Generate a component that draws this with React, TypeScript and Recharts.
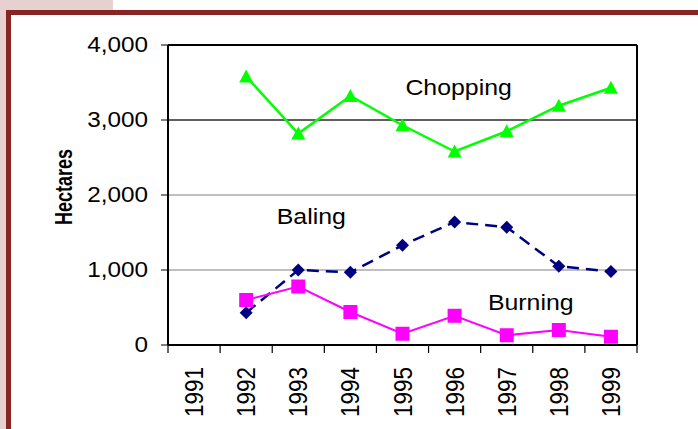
import {
  LineChart,
  Line,
  XAxis,
  YAxis,
  CartesianGrid,
  ReferenceLine,
  ReferenceDot,
  Label,
} from "recharts";

const years = ["1991", "1992", "1993", "1994", "1995", "1996", "1997", "1998", "1999"];
const chopping = [null, 3580, 2820, 3320, 2930, 2580, 2850, 3190, 3430];
const baling = [null, 430, 1000, 970, 1330, 1640, 1570, 1050, 980];
const burning = [null, 600, 780, 440, 150, 390, 130, 200, 110];
const yTicks = [0, 1000, 2000, 3000, 4000];

const data = years.map((year, i) => ({
  year,
  chopping: chopping[i],
  baling: baling[i],
  burning: burning[i],
}));

const FONT = "'Liberation Sans', Arial, sans-serif";

const fmt = (v: number) => v.toLocaleString("en-US");

// text widened on screen-x (the old export is a little stretched sideways)
function WideText({ x, y, angle = 0, sx = 1.13, children, ...rest }: any) {
  return (
    <text
      transform={`translate(${x} ${y}) scale(${sx} 1) rotate(${angle})`}
      fontFamily={FONT}
      fill="#000"
      {...rest}
    >
      {children}
    </text>
  );
}

// year labels sit between boundary tick marks (category bands)
function YearTick({ x, y, payload, index }: any) {
  const half = payload?.offset ?? 26;
  const last = index === years.length - 1;
  return (
    <g>
      <line x1={x - half} x2={x - half} y1={y} y2={y + 8} stroke="#000" strokeWidth={1.2} />
      {last && <line x1={x + half} x2={x + half} y1={y} y2={y + 8} stroke="#000" strokeWidth={1.2} />}
      <WideText x={x} y={y + 22} angle={-90} sx={1.15} textAnchor="end" dominantBaseline="central" fontSize={22.5}>
        {payload.value}
      </WideText>
    </g>
  );
}

function ValueTick({ x, y, payload }: any) {
  return (
    <WideText x={x} y={y} textAnchor="end" dominantBaseline="central" fontSize={21.5}>
      {fmt(payload.value)}
    </WideText>
  );
}

function Triangle({ cx, cy }: any) {
  if (cx == null || cy == null || isNaN(cy)) return <g />;
  return <polygon points={`${cx},${cy - 7} ${cx + 7},${cy + 6} ${cx - 7},${cy + 6}`} fill="#00ff00" />;
}

function Diamond({ cx, cy }: any) {
  if (cx == null || cy == null || isNaN(cy)) return <g />;
  return <polygon points={`${cx},${cy - 6.5} ${cx + 6.5},${cy} ${cx},${cy + 6.5} ${cx - 6.5},${cy}`} fill="#000080" />;
}

function Square({ cx, cy }: any) {
  if (cx == null || cy == null || isNaN(cy)) return <g />;
  return <rect x={cx - 7} y={cy - 7} width={14} height={14} fill="#ff00ff" />;
}

function seriesName(text: string, dx: number) {
  return ({ viewBox }: any) => (
    <WideText
      x={viewBox.x + viewBox.width / 2 + dx}
      y={viewBox.y + viewBox.height / 2}
      textAnchor="middle"
      fontSize={22}
    >
      {text}
    </WideText>
  );
}

export default function App() {
  return (
    <div style={{ position: "absolute", left: 0, top: 0, width: 698, height: 429, background: "#fff", overflow: "hidden" }}>
      <div style={{ position: "absolute", left: 0, top: 0, width: 113, height: 10, background: "#e6d0d0" }} />
      <div style={{ position: "absolute", left: 0, top: 0, width: 6, height: 429, background: "#e6d0d0" }} />
      <div
        style={{
          position: "absolute",
          left: 6,
          top: 10,
          width: 692,
          height: 419,
          borderTop: "5px solid #872424",
          borderLeft: "5px solid #872424",
          boxSizing: "border-box",
        }}
      />
      <div style={{ position: "absolute", left: 0, top: 0 }}>
        <LineChart width={698} height={429} data={data} margin={{ top: 45, right: 60, bottom: 4, left: 68 }}>
          <CartesianGrid vertical={false} stroke="#808080" strokeWidth={1} />
          <ReferenceLine y={3000} stroke="#000" strokeWidth={1} />
          <ReferenceLine y={4000} stroke="#000" strokeWidth={2} />
          <XAxis
            dataKey="year"
            scale="band"
            interval={0}
            height={80}
            tickSize={0}
            tickMargin={0}
            tickLine={false}
            axisLine={{ stroke: "#000", strokeWidth: 2 }}
            tick={<YearTick />}
          />
          <YAxis
            domain={[0, 4000]}
            ticks={yTicks}
            width={100}
            tickSize={7}
            tickMargin={13}
            tickLine={{ stroke: "#000" }}
            axisLine={{ stroke: "#000", strokeWidth: 2 }}
            tick={<ValueTick />}
          >
            <Label
              content={({ viewBox }: any) => (
                <WideText
                  x={viewBox.x - 4}
                  y={viewBox.y + viewBox.height / 2 - 8}
                  angle={-90}
                  sx={1.3}
                  textAnchor="middle"
                  dominantBaseline="central"
                  fontSize={18}
                  fontWeight="bold"
                >
                  Hectares
                </WideText>
              )}
            />
          </YAxis>
          <YAxis
            yAxisId="frame"
            orientation="right"
            domain={[0, 4000]}
            width={1}
            tick={false}
            tickLine={false}
            axisLine={{ stroke: "#000", strokeWidth: 2 }}
          />
          <Line
            dataKey="chopping"
            stroke="#00ff00"
            strokeWidth={2.5}
            dot={<Triangle />}
            activeDot={false}
            isAnimationActive={false}
          />
          <Line
            dataKey="baling"
            stroke="#000080"
            strokeWidth={2.5}
            strokeDasharray="12 7"
            dot={<Diamond />}
            activeDot={false}
            isAnimationActive={false}
          />
          <Line
            dataKey="burning"
            stroke="#ff00ff"
            strokeWidth={2}
            dot={<Square />}
            activeDot={false}
            isAnimationActive={false}
          />
          <ReferenceDot x="1996" y={3333} r={0} stroke="none" label={seriesName("Chopping", 4)} />
          <ReferenceDot x="1993" y={1613} r={0} stroke="none" label={seriesName("Baling", 13)} />
          <ReferenceDot x="1997" y={467} r={0} stroke="none" label={seriesName("Burning", 24)} />
        </LineChart>
      </div>
    </div>
  );
}
